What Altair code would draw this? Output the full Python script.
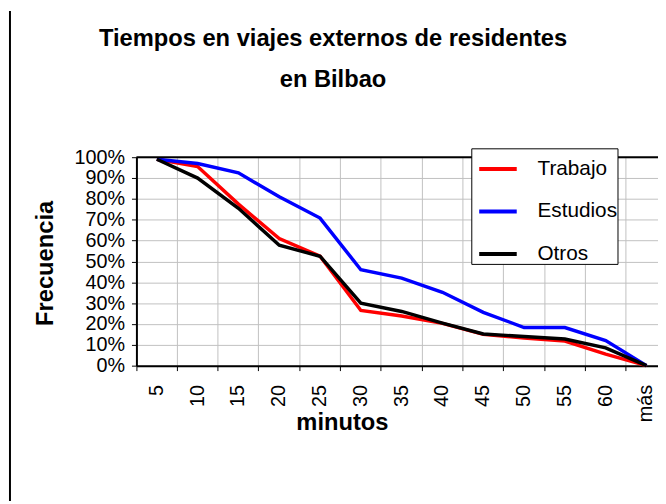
import altair as alt
import pandas as pd

categories = ["5", "10", "15", "20", "25", "30", "35", "40", "45", "50", "55", "60", "más"]
trabajo = [0.99, 0.955, 0.775, 0.61, 0.525, 0.265, 0.238, 0.203, 0.15, 0.133, 0.118, 0.055, 0.0]
estudios = [0.99, 0.97, 0.925, 0.81, 0.708, 0.46, 0.42, 0.352, 0.256, 0.183, 0.183, 0.12, 0.0]
otros = [0.99, 0.90, 0.755, 0.578, 0.525, 0.30, 0.26, 0.204, 0.152, 0.14, 0.128, 0.085, 0.0]
series_names = ["Trabajo", "Estudios", "Otros"]
series_colors = ["#ff0000", "#0000ff", "#000000"]
y_ticks = [0, 0.1, 0.2, 0.3, 0.4, 0.5, 0.6, 0.7, 0.8, 0.9, 1.0]

rows = []
for name, vals in zip(series_names, [trabajo, estudios, otros]):
    for c, v in zip(categories, vals):
        rows.append({"minutos": c, "Frecuencia": v, "serie": name})
df = pd.DataFrame(rows)

FONT = "Liberation Sans"

x_enc = alt.X(
    "minutos:N",
    sort=categories,
    bandPosition=0.5,
    scale=alt.Scale(type="band", range=[0, 537], paddingInner=0, paddingOuter=0),
    axis=alt.Axis(
        title="minutos",
        titleFontSize=24,
        titleFontWeight="bold",
        titleX=208,
        titleY=58,
        titleBaseline="middle",
        titleAnchor="middle",
        labelAngle=270,
        labelFontSize=20,
        labelPadding=14,
        labelColor="black",
        bandPosition=0,
        tickColor="black",
        tickSize=5,
        domainColor="black",
        domainWidth=2,
        gridColor="#c0c0c0",
        grid=True,
    ),
)

y_enc = alt.Y(
    "Frecuencia:Q",
    scale=alt.Scale(domain=[0, 1]),
    axis=alt.Axis(
        title="Frecuencia",
        titleFontSize=24,
        titleFontWeight="bold",
        titleX=-92,
        titleY=107,
        titleAngle=270,
        titleBaseline="middle",
        titleAnchor="middle",
        values=y_ticks,
        format=".0%",
        labelFontSize=20,
        labelPadding=7,
        labelColor="black",
        labelOverlap=False,
        labelFlush=False,
        tickColor="black",
        tickSize=5,
        domainColor="black",
        domainWidth=2,
        gridColor="#c0c0c0",
    ),
)

lines = alt.Chart(df).mark_line(strokeWidth=3.5).encode(
    x=x_enc,
    y=y_enc,
    color=alt.Color(
        "serie:N",
        sort=series_names,
        scale=alt.Scale(domain=series_names, range=series_colors),
        legend=alt.Legend(
            title=None,
            orient="none",
            legendX=339,
            legendY=-9,
            symbolType="stroke",
            symbolSize=1444,
            symbolStrokeWidth=4,
            symbolOffset=6,
            labelFontSize=21,
            labelColor="black",
            labelOffset=19,
            rowPadding=12,
            padding=0,
            strokeColor="black",
            fillColor="white",
        ),
    ),
    order=alt.Order("serie:N"),
)

top_line = alt.Chart(alt.Data(values=[{"v": 1}])).mark_rule(color="black", strokeWidth=2).encode(
    y=alt.value(0)
)

frame = alt.Chart(alt.Data(values=[{"a": 0}])).mark_rule(color="black", strokeWidth=2).encode(
    x=alt.value(-128), y=alt.value(-148), y2=alt.value(348)
)

chart = alt.layer(lines, top_line, frame).properties(
    width=528,
    height=211,
    padding={"left": 130, "top": 148, "right": 0, "bottom": 137},
    autosize=alt.AutoSizeParams(type="none"),
    title=alt.TitleParams(
        text=["Tiempos en  viajes externos de residentes", "en Bilbao"],
        fontSize=24,
        fontWeight="bold",
        lineHeight=42,
        anchor="middle",
        baseline="alphabetic",
        dx=-65,
        dy=102,
        offset=0,
        color="black",
    ),
).configure(font=FONT).configure_view(stroke=None).configure_axis(
    labelFont=FONT, titleFont=FONT
)

chart.save("out.html", embed_options={"renderer": "svg", "actions": False})
